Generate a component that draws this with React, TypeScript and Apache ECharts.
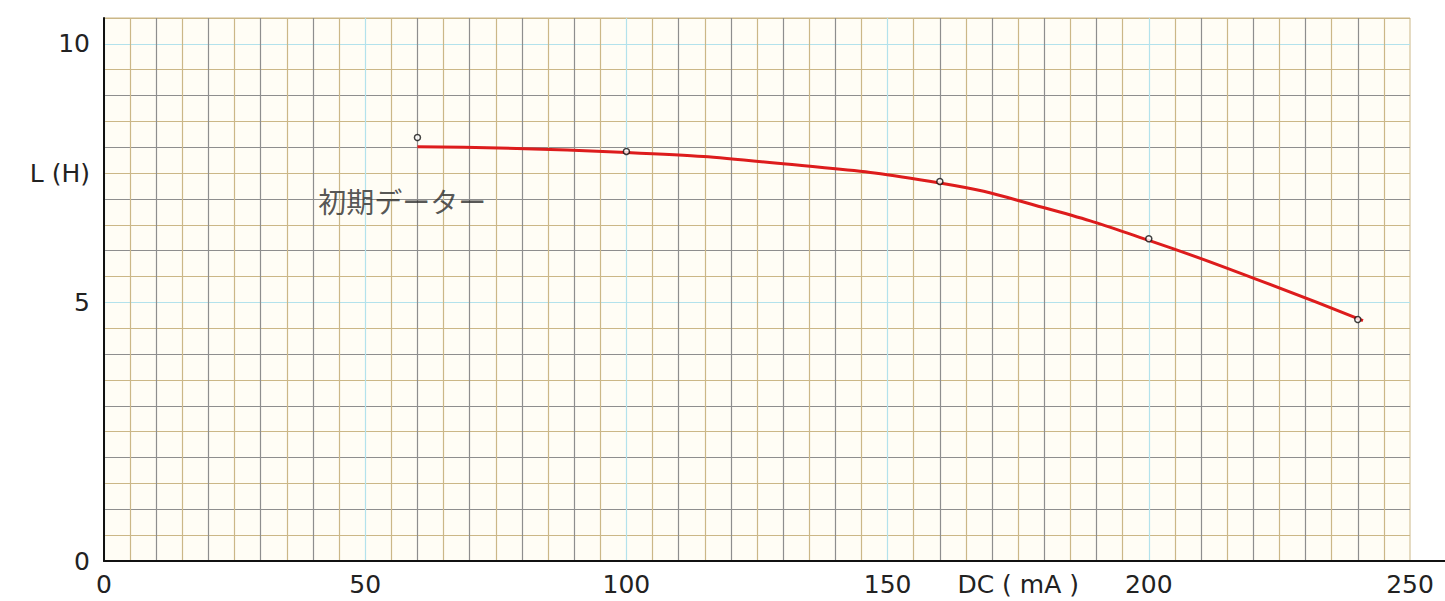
import React, { useEffect, useRef } from "react";
import * as echarts from "echarts";

// Measured data points (DC current mA, inductance H)
const pointX = [60, 100, 160, 200, 240];
const pointY = [8.19, 7.92, 7.34, 6.23, 4.67];

// Fitted red curve
const curveX = [60, 100, 130, 160, 180, 200, 220, 241];
const curveY = [8.01, 7.9, 7.68, 7.31, 6.83, 6.2, 5.47, 4.65];

// Axis tick labels
const xLabelValues = [0, 50, 100, 150, 175, 200, 250];
const xLabelTexts = ["0", "50", "100", "150", "DC ( mA )", "200", "250"];
const yLabelValues = [0, 5, 7.5, 10];
const yLabelTexts = ["0", "5", "L (H)", "10"];

// Annotation
const noteText = "初期データー";
const notePos = [41, 6.96];

const W = 1445;
const H = 601;
const GRID_LEFT = 104;
const GRID_RIGHT = 35;
const GRID_TOP = 18;
const GRID_BOTTOM = 40;

const TAN = "#cbb787";
const GRAY = "#8e8e8e";
const CYAN = "#b3e2ec";
const lineCycle = [CYAN, TAN, GRAY, TAN, GRAY, TAN, GRAY, TAN, GRAY, TAN];

const FONT = "DejaVu Sans";

export default function App() {
  const ref = useRef<HTMLDivElement>(null);

  useEffect(() => {
    if (!ref.current) return;
    const chart = echarts.init(ref.current, null, { renderer: "svg" });
    const bottomY = H - GRID_BOTTOM;
    const rightX = W - GRID_RIGHT;
    chart.setOption({
      animation: false,
      backgroundColor: "#ffffff",
      grid: {
        left: GRID_LEFT,
        right: GRID_RIGHT,
        top: GRID_TOP,
        bottom: GRID_BOTTOM,
        show: true,
        backgroundColor: "#fffdf5",
        borderColor: TAN,
        borderWidth: 1,
        containLabel: false,
      },
      xAxis: {
        type: "value",
        min: 0,
        max: 250,
        interval: 5,
        axisLine: { show: true, onZero: false, lineStyle: { color: "#111", width: 2 } },
        axisTick: { show: false },
        splitLine: {
          show: true,
          showMaxLine: false,
          lineStyle: { color: lineCycle, width: 1.2 },
        },
        axisLabel: {
          show: true,
          margin: 9,
          fontSize: 25,
          lineHeight: 28,
          fontFamily: FONT,
          color: "#222",
          formatter: (v: number) => {
            const i = xLabelValues.indexOf(v);
            return i >= 0 ? xLabelTexts[i] : "";
          },
        },
      },
      yAxis: {
        type: "value",
        min: 0,
        max: 10.5,
        interval: 0.5,
        axisLine: { show: true, onZero: false, lineStyle: { color: "#111", width: 2 } },
        axisTick: { show: false },
        splitLine: {
          show: true,
          lineStyle: { color: lineCycle, width: 1.2 },
        },
        axisLabel: {
          show: true,
          margin: 14,
          fontSize: 25,
          fontFamily: FONT,
          color: "#222",
          formatter: (v: number) => {
            const i = yLabelValues.indexOf(v);
            return i >= 0 ? yLabelTexts[i] : "";
          },
        },
      },
      graphic: [
        {
          type: "line",
          shape: { x1: rightX, y1: bottomY, x2: W, y2: bottomY },
          style: { stroke: "#111", lineWidth: 2 },
          z: 10,
        },
      ],
      series: [
        {
          type: "line",
          data: curveX.map((x, i) => [x, curveY[i]]),
          smooth: 0.5,
          symbol: "none",
          lineStyle: { color: "#dd1c1c", width: 3 },
          silent: true,
          z: 3,
        },
        {
          type: "scatter",
          data: pointX.map((x, i) => [x, pointY[i]]),
          symbol: "circle",
          symbolSize: 6,
          itemStyle: { color: "#ffffff", borderColor: "#111", borderWidth: 1.5 },
          silent: true,
          z: 4,
        },
        {
          type: "scatter",
          data: [notePos],
          symbolSize: 0,
          silent: true,
          label: {
            show: true,
            position: "right",
            distance: 0,
            formatter: () => noteText,
            fontSize: 28,
            fontFamily: "Noto Sans CJK JP",
            color: "#2a2a2a",
          },
          z: 5,
        },
      ],
    });
    return () => chart.dispose();
  }, []);

  return (
    <div
      ref={ref}
      style={{ position: "fixed", left: 0, top: 0, width: W, height: H, background: "#fff" }}
    />
  );
}
